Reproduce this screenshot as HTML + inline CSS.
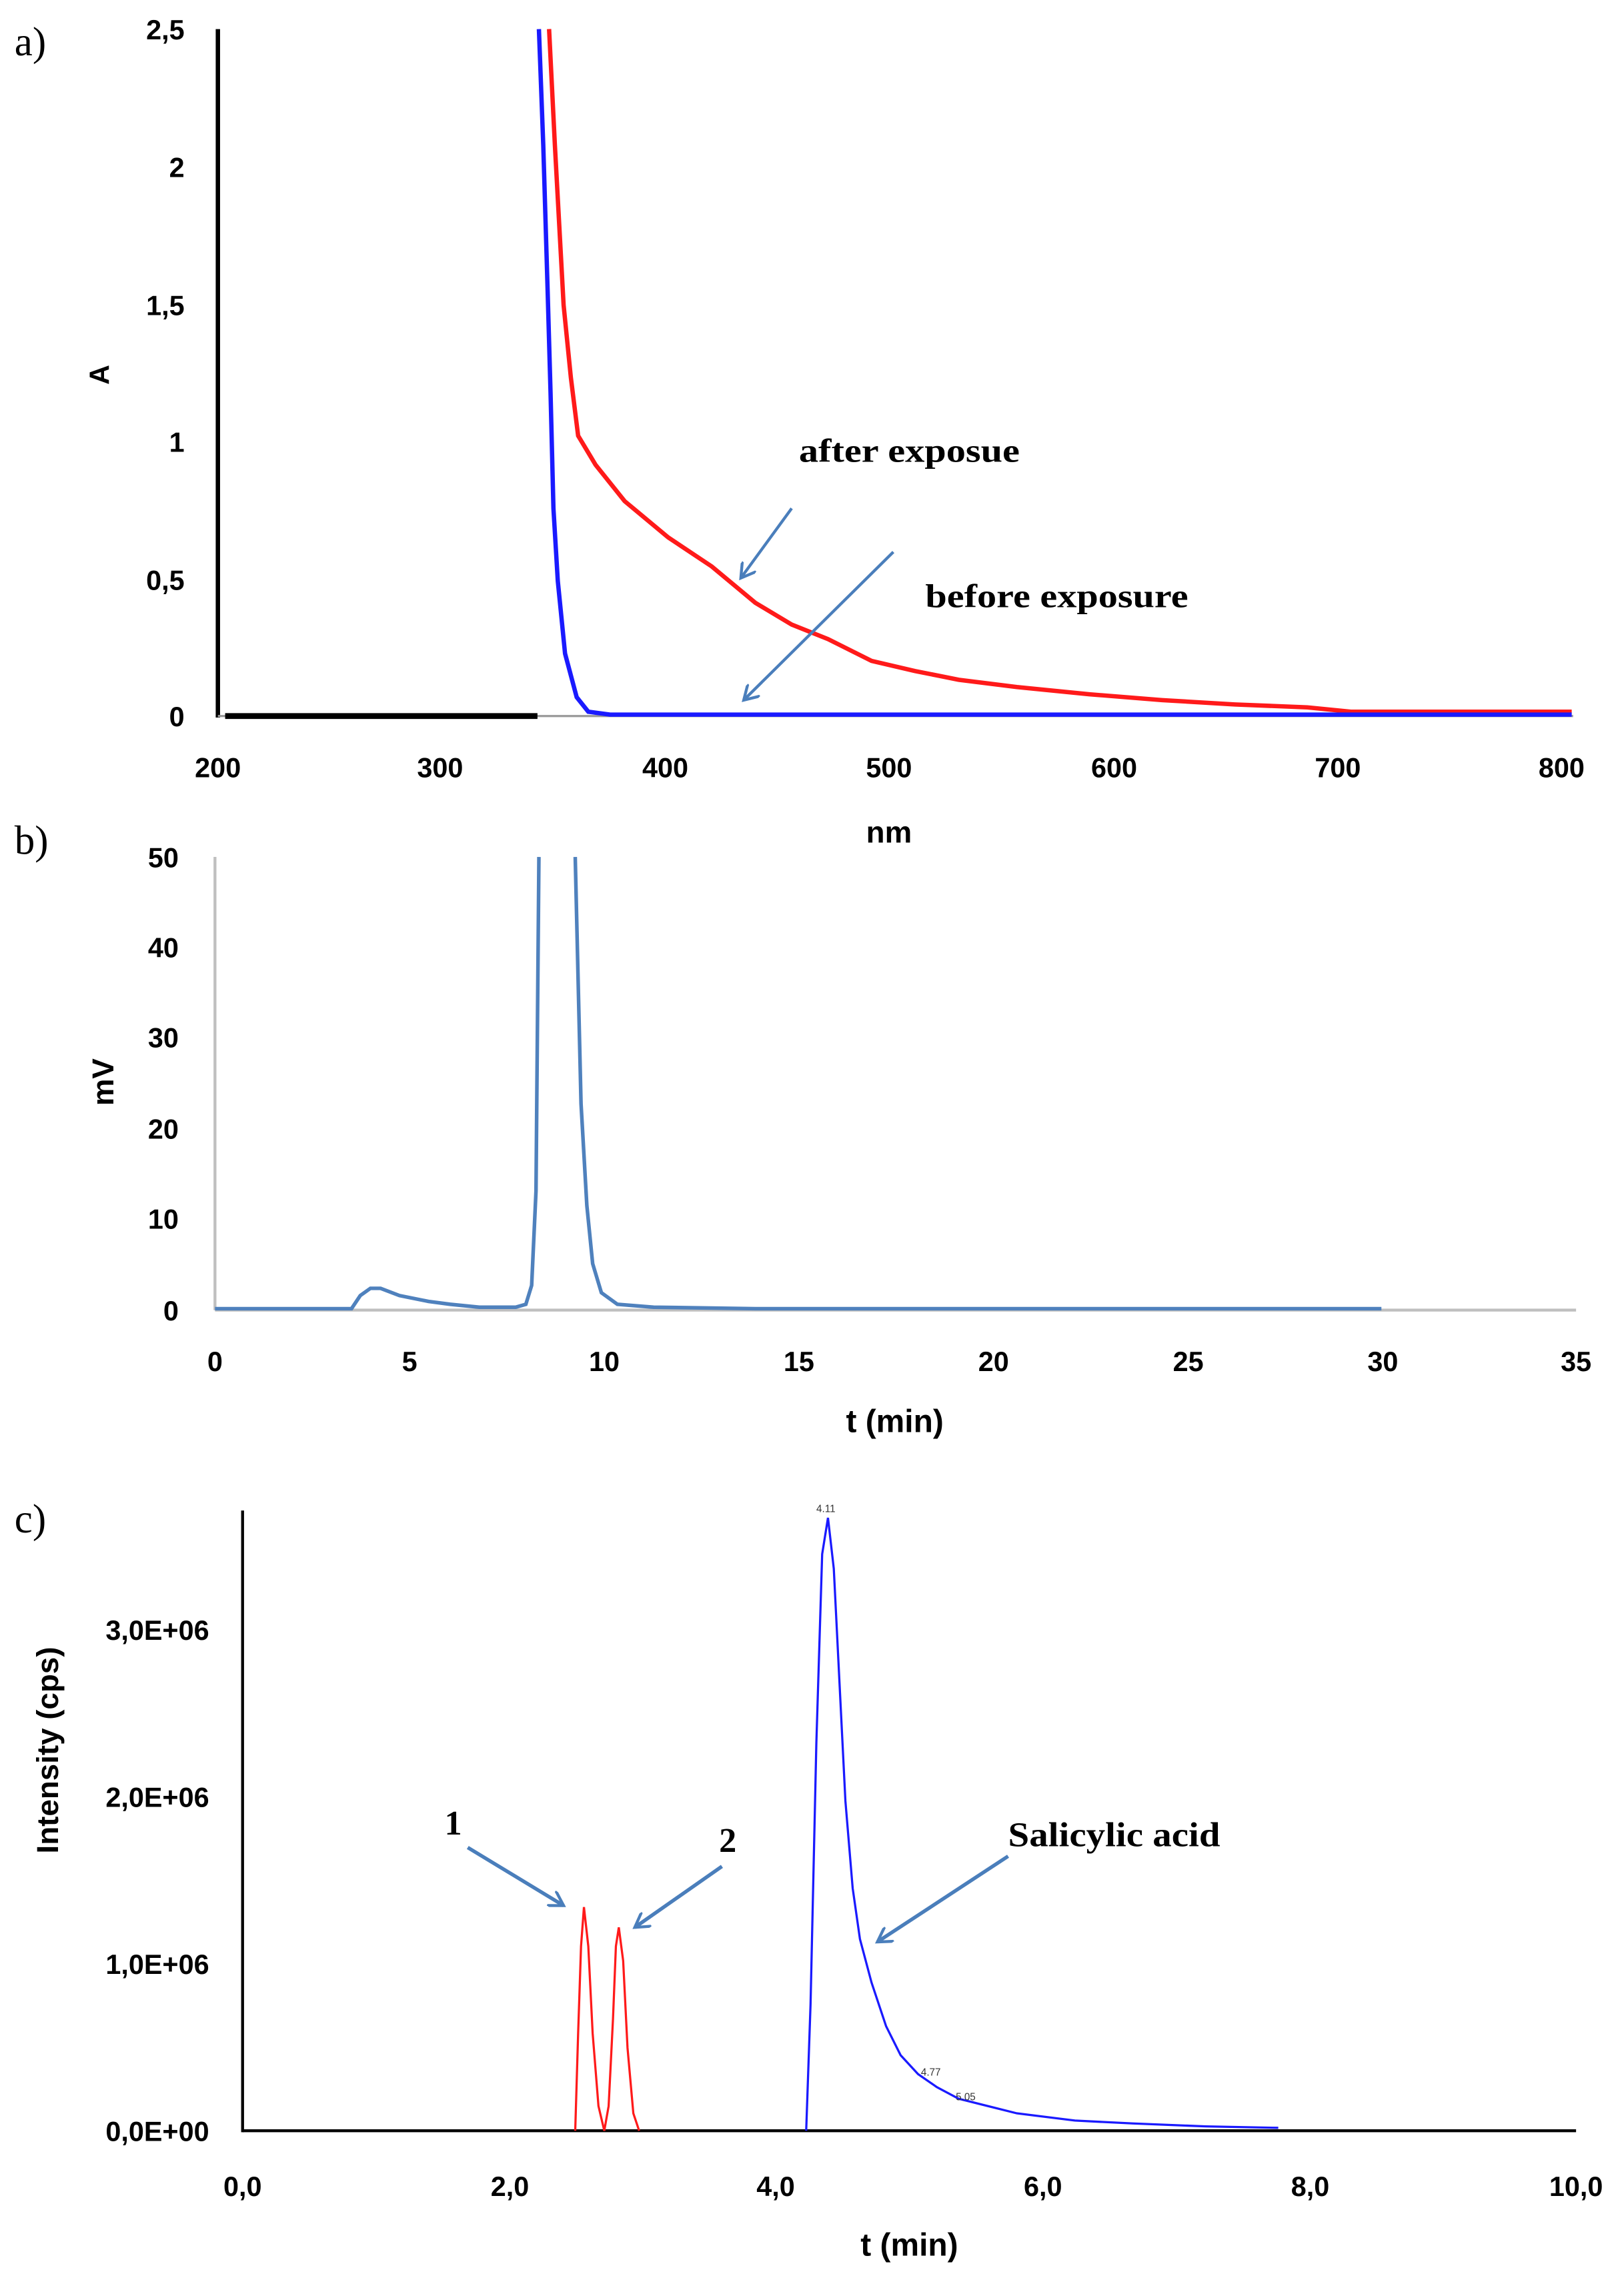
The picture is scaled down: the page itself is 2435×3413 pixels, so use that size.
<!DOCTYPE html>
<html><head><meta charset="utf-8"><style>html,body{margin:0;padding:0;background:#fff}svg{display:block}</style></head><body>
<svg width="2435" height="3413" viewBox="0 0 1118 1567" xmlns="http://www.w3.org/2000/svg">
<defs><marker id="ar" markerWidth="12" markerHeight="12" refX="10" refY="6" orient="auto" markerUnits="userSpaceOnUse"><path d="M0,0 L10,6 L0,12" fill="none" stroke="#4a7ebb" stroke-width="2"/></marker></defs>
<g font-family="Liberation Serif, serif" font-size="28" fill="#000">
<text x="10" y="38">a)</text><text x="10" y="588">b)</text><text x="10" y="1055">c)</text></g>
<!-- Panel a -->
<g font-family="Liberation Sans, sans-serif" font-weight="bold" font-size="19" fill="#000">
<g text-anchor="end"><text x="127" y="27">2,5</text><text x="127" y="122">2</text><text x="127" y="217">1,5</text><text x="127" y="311">1</text><text x="127" y="406">0,5</text><text x="127" y="500">0</text></g>
<g text-anchor="middle"><text x="150" y="535">200</text><text x="303" y="535">300</text><text x="458" y="535">400</text><text x="612" y="535">500</text><text x="767" y="535">600</text><text x="921" y="535">700</text><text x="1075" y="535">800</text>
<text x="612" y="580" font-size="21">nm</text></g>
<text transform="translate(75,258) rotate(-90)" text-anchor="middle">A</text></g>
<line x1="150" y1="20" x2="150" y2="494" stroke="#000" stroke-width="3"/>
<line x1="150" y1="493" x2="1083" y2="493" stroke="#999" stroke-width="1.5"/>
<polyline fill="none" stroke="#ff1a1a" stroke-width="3" points="378,20 382,100 388,210 393,260 398,300 410,320 430,345 460,370 490,390 520,415 545,430 570,440 600,455 630,462 660,468 700,473 750,478 800,482 850,485 900,487 930,490 1082,490"/>
<polyline fill="none" stroke="#1a1aff" stroke-width="3" points="371,20 374,100 377,200 379,270 381,350 384,400 389,450 397,480 405,490 420,492 1082,492"/>
<line x1="155" y1="493" x2="370" y2="493" stroke="#000" stroke-width="4"/>
<line x1="545" y1="350" x2="510" y2="398" stroke="#4a7ebb" stroke-width="2" marker-end="url(#ar)"/>
<line x1="615" y1="380" x2="512" y2="482" stroke="#4a7ebb" stroke-width="2" marker-end="url(#ar)"/>
<g font-family="Liberation Serif, serif" font-weight="bold" font-size="23"><text x="550" y="318" textLength="152" lengthAdjust="spacingAndGlyphs">after exposue</text><text x="637" y="418" textLength="181" lengthAdjust="spacingAndGlyphs">before exposure</text></g>
<!-- Panel b -->
<line x1="148" y1="590" x2="148" y2="902" stroke="#bfbfbf" stroke-width="2"/>
<line x1="148" y1="902" x2="1085" y2="902" stroke="#bfbfbf" stroke-width="2"/>
<g font-family="Liberation Sans, sans-serif" font-weight="bold" font-size="19" fill="#000">
<g text-anchor="end"><text x="123" y="597">50</text><text x="123" y="659">40</text><text x="123" y="721">30</text><text x="123" y="784">20</text><text x="123" y="846">10</text><text x="123" y="909">0</text></g>
<g text-anchor="middle"><text x="148" y="944">0</text><text x="282" y="944">5</text><text x="416" y="944">10</text><text x="550" y="944">15</text><text x="684" y="944">20</text><text x="818" y="944">25</text><text x="952" y="944">30</text><text x="1085" y="944">35</text>
<text x="616" y="986" font-size="22">t (min)</text></g>
<text transform="translate(78,745) rotate(-90)" text-anchor="middle" font-size="21">mV</text></g>
<polyline fill="none" stroke="#4f81bd" stroke-width="2.5" points="148,901 242,901 248,892 255,887 262,887 275,892 295,896 310,898 330,900 355,900 362,898 366,885 369,820 371,590"/>
<polyline fill="none" stroke="#4f81bd" stroke-width="2.5" points="396,590 400,760 404,830 408,870 414,890 425,898 450,900 520,901 951,901"/>
<!-- Panel c -->
<line x1="167" y1="1040" x2="167" y2="1468" stroke="#000" stroke-width="2"/>
<line x1="167" y1="1467" x2="1085" y2="1467" stroke="#000" stroke-width="2"/>
<g font-family="Liberation Sans, sans-serif" font-weight="bold" font-size="19" fill="#000">
<g text-anchor="end"><text x="144" y="1129">3,0E+06</text><text x="144" y="1244">2,0E+06</text><text x="144" y="1359">1,0E+06</text><text x="144" y="1474">0,0E+00</text></g>
<g text-anchor="middle"><text x="167" y="1512">0,0</text><text x="351" y="1512">2,0</text><text x="534" y="1512">4,0</text><text x="718" y="1512">6,0</text><text x="902" y="1512">8,0</text><text x="1085" y="1512">10,0</text>
<text x="626" y="1553" font-size="22">t (min)</text></g>
<text transform="translate(40,1205) rotate(-90)" text-anchor="middle" font-size="21">Intensity (cps)</text></g>
<polyline fill="none" stroke="#ff1a1a" stroke-width="1.5" points="396,1467 398,1400 400,1340 402,1313 405,1340 408,1400 412,1450 416,1467 419,1450 422,1390 424,1340 426,1327 429,1350 432,1410 436,1455 440,1467"/>
<polyline fill="none" stroke="#1a1aff" stroke-width="1.5" points="555,1467 558,1380 562,1200 566,1070 570,1045 574,1080 578,1160 582,1240 587,1300 592,1335 600,1365 610,1395 620,1415 632,1428 645,1437 660,1445 680,1450 700,1455 740,1460 780,1462 830,1464 880,1465"/>
<g font-family="Liberation Sans, sans-serif" font-size="7" fill="#333"><text x="562" y="1041">4.11</text><text x="634" y="1429">4.77</text><text x="658" y="1446">5.05</text></g>
<line x1="322" y1="1272" x2="388" y2="1312" stroke="#4a7ebb" stroke-width="2.5" marker-end="url(#ar)"/>
<line x1="497" y1="1285" x2="437" y2="1327" stroke="#4a7ebb" stroke-width="2.5" marker-end="url(#ar)"/>
<line x1="694" y1="1278" x2="604" y2="1337" stroke="#4a7ebb" stroke-width="2.5" marker-end="url(#ar)"/>
<g font-family="Liberation Serif, serif" font-weight="bold" font-size="24"><text x="306" y="1263">1</text><text x="495" y="1275">2</text><text x="694" y="1271" textLength="146" lengthAdjust="spacingAndGlyphs">Salicylic acid</text></g>
</svg>
</body></html>
